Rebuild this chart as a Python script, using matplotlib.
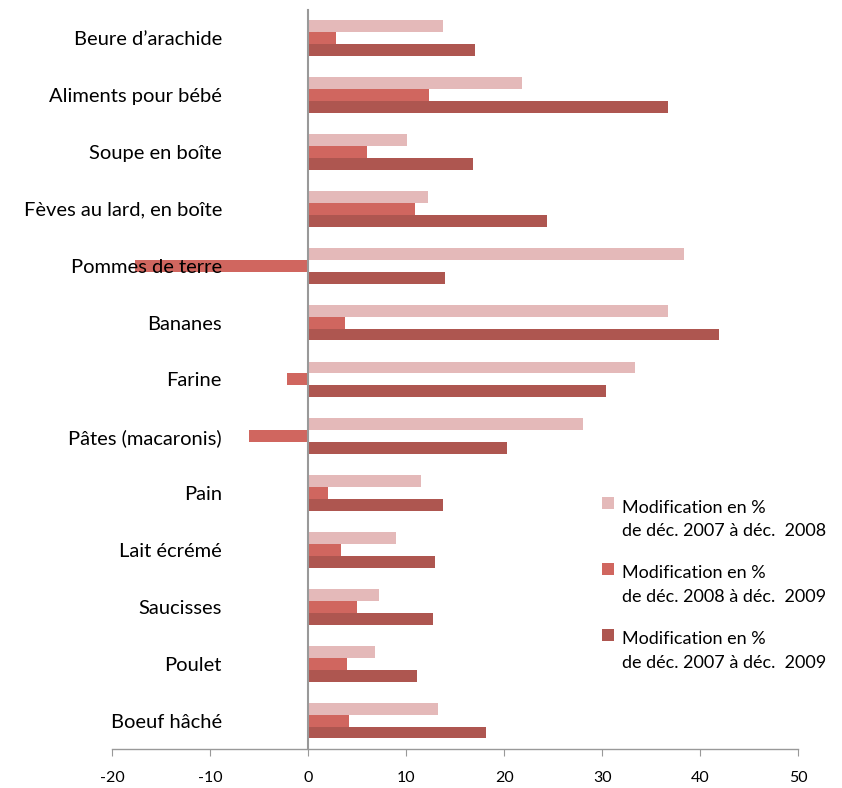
import numpy as np
import matplotlib
matplotlib.use("Agg")
import matplotlib.pyplot as plt
from matplotlib.patches import Rectangle
from matplotlib.container import BarContainer
from matplotlib.legend_handler import HandlerPatch, update_from_first_child

plt.rcParams['font.family'] = ['Lato', 'DejaVu Sans']

categories = ["Beure d\u2019arachide", "Aliments pour bébé", "Soupe en boîte",
              "Fèves au lard, en boîte", "Pommes de terre", "Bananes", "Farine",
              "Pâtes (macaronis)", "Pain", "Lait écrémé", "Saucisses", "Poulet",
              "Boeuf hâché"]

chg_07_08 = [13.8, 21.8, 10.1, 12.2, 38.4, 36.7, 33.3, 28.0, 11.5, 9.0, 7.2, 6.8, 13.3]
chg_08_09 = [2.8, 12.3, 6.0, 10.9, -17.7, 3.8, -2.1, -6.0, 2.0, 3.4, 5.0, 4.0, 4.2]
chg_07_09 = [17.0, 36.7, 16.8, 24.4, 14.0, 41.9, 30.4, 20.3, 13.8, 12.9, 12.7, 11.1, 18.2]

labels = ["Modification en %\nde déc. 2007 à déc.  2008",
          "Modification en %\nde déc. 2008 à déc.  2009",
          "Modification en %\nde déc. 2007 à déc.  2009"]
colors = ["#E4B9B9", "#D0665F", "#AE5650"]
xticks = [-20, -10, 0, 10, 20, 30, 40, 50]

fig = plt.figure(figsize=(8.42, 7.88), dpi=100)
ax = fig.add_axes([0.133, 0.0495, 0.815, 0.938])

n = len(categories)
y = np.arange(n)[::-1]  # first category at top
h = 0.21
series = [chg_07_08, chg_08_09, chg_07_09]
for i, (vals, c, lab) in enumerate(zip(series, colors, labels)):
    ax.barh(y + (1 - i) * h, vals, height=h, color=c, label=lab, zorder=1)

for s in ['top', 'right']:
    ax.spines[s].set_visible(False)
ax.spines['left'].set_position(('data', 0))
ax.spines['left'].set_color('#999999')
ax.spines['left'].set_linewidth(1.5)
ax.spines['bottom'].set_color('#999999')
ax.spines['bottom'].set_linewidth(1.0)

ax.set_xlim(-20, 50)
ax.set_ylim(-0.5, n - 0.5)
ax.set_xticks(xticks)
ax.set_xticklabels([str(t) for t in xticks])
ax.set_yticks(y)
ax.set_yticklabels(categories)
ax.tick_params(axis='y', length=0, pad=62, labelsize=14.5)
ax.tick_params(axis='x', direction='out', length=5, color='#999999', pad=11,
               labelsize=11.5)


# square next to the first line of each two-line legend entry
def shifted_square(legend, orig_handle, xdescent, ydescent, width, height, fontsize):
    return Rectangle((-xdescent, -ydescent + 0.9 * fontsize), width, height)


leg = ax.legend(loc='lower right', bbox_to_anchor=(1.065, 0.084), frameon=False,
                fontsize=13, labelspacing=1.43, handlelength=0.65, handleheight=0.65,
                handletextpad=0.45,
                handler_map={BarContainer: HandlerPatch(patch_func=shifted_square,
                                                        update_func=update_from_first_child)})
for t in leg.get_texts():
    t.set_linespacing(1.6)

fig.savefig("out.png", dpi=100)
